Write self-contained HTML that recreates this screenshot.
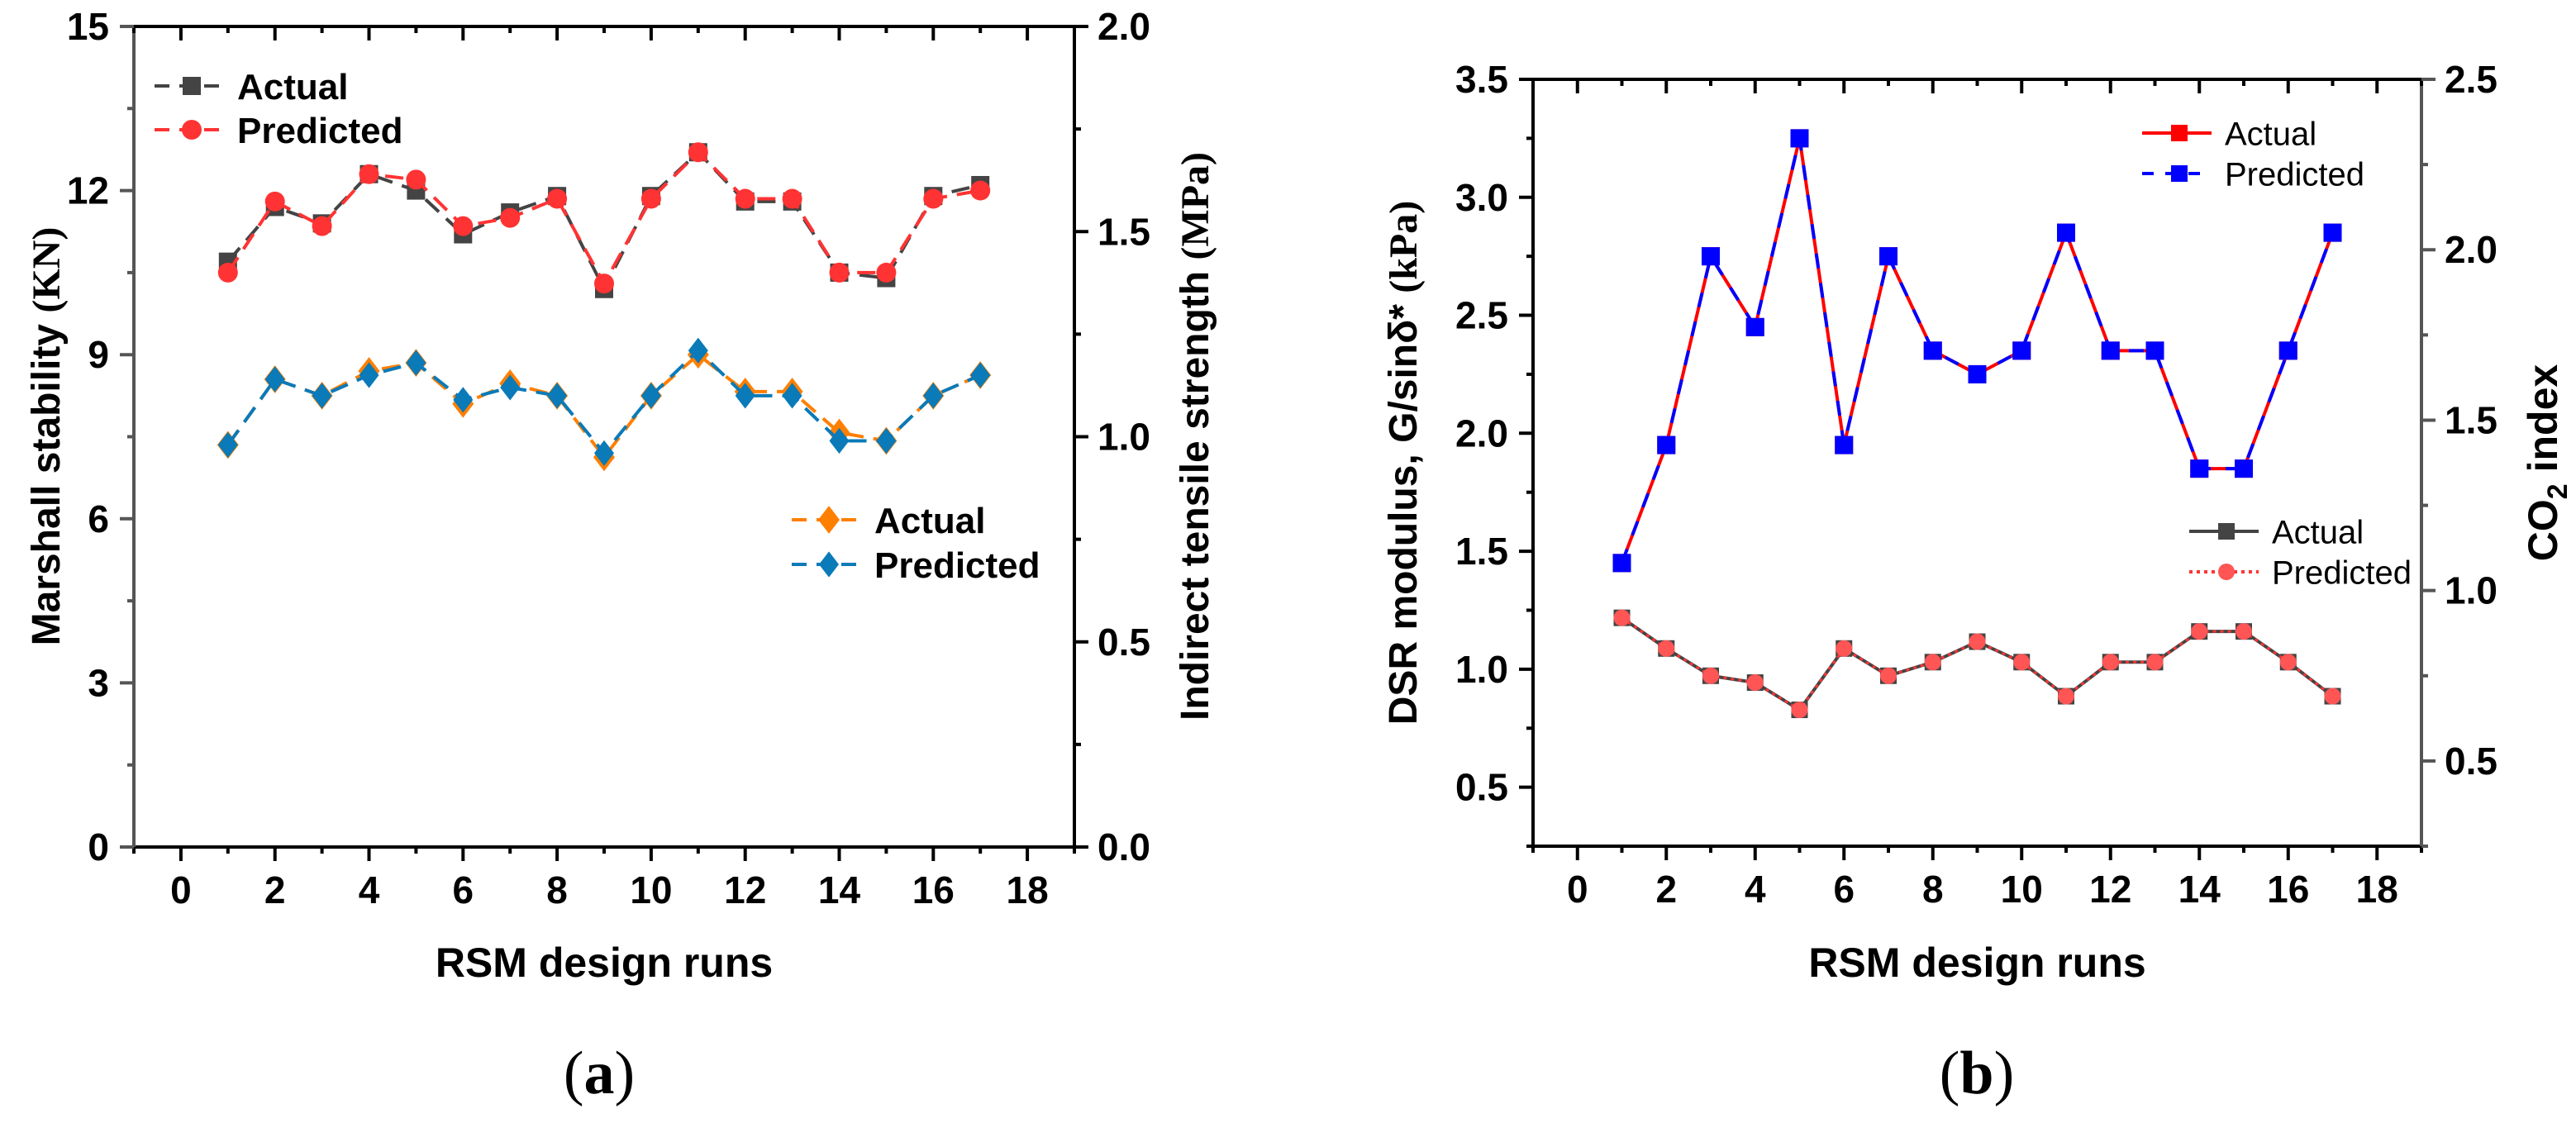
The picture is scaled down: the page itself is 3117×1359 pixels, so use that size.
<!DOCTYPE html>
<html><head><meta charset="utf-8"><style>
html,body{margin:0;padding:0;background:#fff;}
svg{display:block;font-family:"Liberation Sans",Arial,sans-serif;}
</style></head><body>
<svg id="fig" width="3117" height="1359" viewBox="0 0 3117 1359" xmlns="http://www.w3.org/2000/svg"></svg>
<script>
// ---- data ----
const runs = [1,2,3,4,5,6,7,8,9,10,11,12,13,14,15,16,17];
const msActual = [10.7,11.7,11.4,12.3,12.0,11.2,11.6,11.9,10.2,11.9,12.7,11.8,11.8,10.5,10.4,11.9,12.1];
const msPredicted = [10.5,11.8,11.35,12.3,12.2,11.35,11.5,11.85,10.3,11.85,12.7,11.85,11.85,10.5,10.5,11.85,12.0];
const itsActual = [0.98,1.14,1.10,1.16,1.18,1.08,1.13,1.10,0.95,1.10,1.20,1.11,1.11,1.01,0.99,1.10,1.15];
const itsPredicted = [0.98,1.14,1.10,1.15,1.18,1.09,1.12,1.10,0.96,1.10,1.21,1.10,1.10,0.99,0.99,1.10,1.15];
const dsrActual = [1.45,1.95,2.75,2.45,3.25,1.95,2.75,2.35,2.25,2.35,2.85,2.35,2.35,1.85,1.85,2.35,2.85];
const dsrPredicted = [1.45,1.95,2.75,2.45,3.25,1.95,2.75,2.35,2.25,2.35,2.85,2.35,2.35,1.85,1.85,2.35,2.85];
const co2Actual = [0.92,0.83,0.75,0.73,0.65,0.83,0.75,0.79,0.85,0.79,0.69,0.79,0.79,0.88,0.88,0.79,0.69];
const co2Predicted = [0.92,0.83,0.75,0.73,0.65,0.83,0.75,0.79,0.85,0.79,0.69,0.79,0.79,0.88,0.88,0.79,0.69];
const xTicks = [0,2,4,6,8,10,12,14,16,18];
const aLeftTicks = [0,3,6,9,12,15];
const aRightTicks = ["0.0","0.5","1.0","1.5","2.0"];
const bLeftTicks = ["0.5","1.0","1.5","2.0","2.5","3.0","3.5"];
const bRightTicks = ["0.5","1.0","1.5","2.0","2.5"];

const NS="http://www.w3.org/2000/svg";
const svg=document.getElementById('fig');
function el(tag,attrs,parent){const e=document.createElementNS(NS,tag);for(const k in attrs)e.setAttribute(k,attrs[k]);(parent||svg).appendChild(e);return e;}
function txt(s,attrs,parent){const e=el('text',attrs,parent);e.textContent=s;return e;}

function makePanel(P){
  const g=el('g',{});
  
  
  const X=v=>P.x0+(v-(-1))/20*(P.x1-P.x0);
  const YL=v=>P.yb-(v-P.lmin)/(P.lmax-P.lmin)*(P.yb-P.yt);
  const YR=v=>P.yb-(v-P.rmin)/(P.rmax-P.rmin)*(P.yb-P.yt);
  // axes
  const axes=el('g',{stroke:'#000','stroke-width':4,fill:'none'},g);
  
  
  el('line',{x1:P.x0,y1:P.yt,x2:P.x1,y2:P.yt},axes);
  el('line',{x1:P.x0,y1:P.yb,x2:P.x1,y2:P.yb},axes);
  el('line',{x1:P.x0,y1:P.yt,x2:P.x0,y2:P.yb,stroke:P.leftColor},axes);
  el('line',{x1:P.x1,y1:P.yt,x2:P.x1,y2:P.yb,stroke:P.rightColor},axes);
  // x ticks
  for(let v=-1;v<=19;v++){
    const major=(v%2===0);const len=major?17:8;const x=X(v);
    el('line',{x1:x,y1:P.yb,x2:x,y2:P.yb+len,stroke:'#000','stroke-width':4},g);
    el('line',{x1:x,y1:P.yt,x2:x,y2:P.yt+len,stroke:'#000','stroke-width':4},g);
  }
  xTicks.forEach(v=>{const t=txt(String(v),{x:X(v),y:P.yb+68,'font-size':46,'font-weight':'bold','text-anchor':'middle'},g);
    
    });
  // left ticks
  P.lTickVals.forEach((v,i)=>{const y=YL(+v);
    el('line',{x1:P.x0-17,y1:y,x2:P.x0,y2:y,stroke:P.leftColor,'stroke-width':4},g);
    const t=txt(String(v),{x:P.x0-30,y:y+16,'font-size':46,'font-weight':'bold','text-anchor':'end'},g);
    
    
    if(i<P.lTickVals.length-1){const ym=YL((+v + +P.lTickVals[i+1])/2);
      el('line',{x1:P.x0-8,y1:ym,x2:P.x0,y2:ym,stroke:P.leftColor,'stroke-width':4},g);}
  });
  if(P.lMinorBelow){const ym=YL(P.lMinorBelow);el('line',{x1:P.x0-8,y1:ym,x2:P.x0,y2:ym,stroke:P.leftColor,'stroke-width':4},g);}
  P.rTickVals.forEach((v,i)=>{const y=YR(+v);
    el('line',{x1:P.x1,y1:y,x2:P.x1+17,y2:y,stroke:P.rightColor,'stroke-width':4},g);
    const t=txt(String(v),{x:P.x1+28,y:y+16,'font-size':46,'font-weight':'bold','text-anchor':'start'},g);
    
    
    if(i<P.rTickVals.length-1){const ym=YR((+v + +P.rTickVals[i+1])/2);
      el('line',{x1:P.x1,y1:ym,x2:P.x1+8,y2:ym,stroke:P.rightColor,'stroke-width':4},g);}
  });
  if(P.rMinorBelow){const ym=YR(P.rMinorBelow);el('line',{x1:P.x1,y1:ym,x2:P.x1+8,y2:ym,stroke:P.rightColor,'stroke-width':4},g);}
  // titles
  const xt=txt('RSM design runs',{x:(P.x0+P.x1)/2,y:1182,'font-size':50,'font-weight':'bold','text-anchor':'middle'},g);
  
  
  return {g,X,YL,YR};
}
function series(g,xs,ys,X,Y,opt,name){
  const sg=el('g',{},g);
  
  
  const pts=xs.map((v,i)=>X(v)+','+Y(ys[i])).join(' ');
  if(opt.under) el('polyline',{points:pts,fill:'none',stroke:opt.under,'stroke-width':opt.w||4},sg);
  el('polyline',{points:pts,fill:'none',stroke:opt.color,'stroke-width':opt.w||4,'stroke-dasharray':opt.dash||'none'},sg);
  xs.forEach((v,i)=>marker(sg,X(v),Y(ys[i]),opt.marker,opt.mcolor,opt.size));
}
function marker(g,x,y,type,c,s){
  let m;
  if(type==='sq') m=el('rect',{x:x-s/2,y:y-s/2,width:s,height:s,fill:c},g);
  else if(type==='ci') m=el('circle',{cx:x,cy:y,r:s/2,fill:c},g);
  else m=el('polygon',{points:`${x},${y-s*0.65} ${x+s/2},${y} ${x},${y+s*0.65} ${x-s/2},${y}`,fill:c},g);
  
  
}
function legendRow(g,x,y,opt,label,bold,fs,name){
  const lg=el('g',{},g);
  
  
  el('line',{x1:x,y1:y,x2:x+84,y2:y,stroke:opt.color,'stroke-width':4,'stroke-dasharray':opt.dash||'none'},lg);
  marker(lg,x+45,y,opt.marker,opt.mcolor,opt.size);
  txt(label,{x:x+100,y:y+fs*0.36,'font-size':fs,'font-weight':bold?'bold':'normal'},lg);
}

// ---- panel a ----
const A=makePanel({name:'panel-a',x0:162,x1:1300,yt:32,yb:1025,lmin:0,lmax:15,rmin:0,rmax:2,
  lTickVals:aLeftTicks,rTickVals:aRightTicks,leftColor:'#555',rightColor:'#000'});
series(A.g,runs,msActual,A.X,A.YL,{color:'#444',dash:'22 12',marker:'sq',mcolor:'#444',size:22},'series-ms-actual');
series(A.g,runs,msPredicted,A.X,A.YL,{color:'#f33',dash:'22 12',marker:'ci',mcolor:'#f33',size:24},'series-ms-predicted');
series(A.g,runs,itsActual,A.X,A.YR,{color:'#ff7f00',dash:'22 12',marker:'di',mcolor:'#ff7f00',size:26},'series-its-actual');
series(A.g,runs,itsPredicted,A.X,A.YR,{color:'#0a7ab8',dash:'22 12',marker:'di',mcolor:'#0a7ab8',size:24},'series-its-predicted');
legendRow(A.g,187,104,{color:'#444',dash:'18 12',marker:'sq',mcolor:'#444',size:22},'Actual',true,44,'legend-ms-actual');
legendRow(A.g,187,157,{color:'#f33',dash:'18 12',marker:'ci',mcolor:'#f33',size:24},'Predicted',true,44,'legend-ms-predicted');
legendRow(A.g,958,629,{color:'#ff7f00',dash:'18 12',marker:'di',mcolor:'#ff7f00',size:26},'Actual',true,44,'legend-its-actual');
legendRow(A.g,958,683,{color:'#0a7ab8',dash:'18 12',marker:'di',mcolor:'#0a7ab8',size:24},'Predicted',true,44,'legend-its-predicted');
let t=txt('',{transform:'translate(72,528) rotate(-90)','font-size':48,'font-weight':'bold','text-anchor':'middle'},A.g);


t.innerHTML='Marshall stability <tspan font-family="Liberation Serif, serif">(KN)</tspan>';
t=txt('',{transform:'translate(1462,528) rotate(-90)','font-size':48,'font-weight':'bold','text-anchor':'middle'},A.g);


t.innerHTML='Indirect tensile strength <tspan font-family="Liberation Serif, serif">(MPa)</tspan>';
t=txt('',{x:725,y:1323,'font-size':74,'font-family':'Liberation Serif, serif','text-anchor':'middle'},A.g);


t.innerHTML='(<tspan font-weight="bold">a</tspan>)';

// ---- panel b ----
const B=makePanel({name:'panel-b',x0:1855,x1:2930,yt:96,yb:1024,lmin:0.25,lmax:3.5,rmin:0.25,rmax:2.5,
  lTickVals:bLeftTicks,rTickVals:bRightTicks,leftColor:'#000',rightColor:'#555',lMinorBelow:0.25,rMinorBelow:0.25});
series(B.g,runs,dsrActual,B.X,B.YL,{color:'#f00',w:4,marker:'sq',mcolor:'#f00',size:22},'series-dsr-actual');
series(B.g,runs,dsrPredicted,B.X,B.YL,{color:'#00f',w:4,dash:'18 18',marker:'sq',mcolor:'#00f',size:22},'series-dsr-predicted');
series(B.g,runs,co2Actual,B.X,B.YR,{color:'#444',w:4,marker:'sq',mcolor:'#444',size:20},'series-co2-actual');
series(B.g,runs,co2Predicted,B.X,B.YR,{color:'#f33',w:3,dash:'4 5',marker:'ci',mcolor:'#f55',size:20},'series-co2-predicted');
legendRow(B.g,2592,161,{color:'#f00',marker:'sq',mcolor:'#f00',size:20},'Actual',false,40,'legend-dsr-actual');
legendRow(B.g,2592,210,{color:'#00f',dash:'14 14',marker:'sq',mcolor:'#00f',size:20},'Predicted',false,40,'legend-dsr-predicted');
legendRow(B.g,2649,643,{color:'#444',marker:'sq',mcolor:'#444',size:20},'Actual',false,40,'legend-co2-actual');
legendRow(B.g,2649,692,{color:'#f33',dash:'4 5',marker:'ci',mcolor:'#f55',size:20},'Predicted',false,40,'legend-co2-predicted');
t=txt('',{transform:'translate(1714,560) rotate(-90)','font-size':48,'font-weight':'bold','text-anchor':'middle'},B.g);


t.innerHTML='DSR modulus, G/sinδ* <tspan font-family="Liberation Serif, serif">(kPa)</tspan>';
t=txt('',{transform:'translate(3094,560) rotate(-90)','font-size':50,'font-weight':'bold','text-anchor':'middle'},B.g);


t.innerHTML='CO<tspan font-size="34" dy="12">2</tspan><tspan dy="-12"> index</tspan>';
t=txt('',{x:2392,y:1323,'font-size':74,'font-family':'Liberation Serif, serif','text-anchor':'middle'},B.g);


t.innerHTML='(<tspan font-weight="bold">b</tspan>)';
</script>
</body></html>
